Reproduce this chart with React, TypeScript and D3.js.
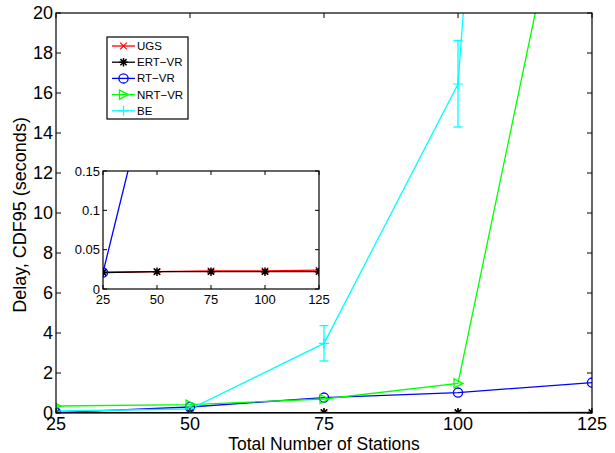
import React from 'react';
import * as d3 from 'd3';

// Delay CDF95 vs number of stations
const stations = [25, 50, 75, 100, 125];
const ugs = [0.021, 0.022, 0.023, 0.023, 0.024];
const ertVr = [0.021, 0.022, 0.022, 0.022, 0.022];
const rtVr = [0.021, 0.3, 0.77, 1.02, 1.52];
const nrtVr = [0.35, 0.42, 0.7, 1.48, 33.6];
const be = [0.1, 0.2, 3.48, 16.45, 106];
const beLow = [0.08, 0.17, 2.6, 14.3, 100];
const beHigh = [0.12, 0.23, 4.37, 18.63, 112];

const yTicks = [0, 2, 4, 6, 8, 10, 12, 14, 16, 18, 20];
const insetYTicks = [0, 0.05, 0.1, 0.15];

const series = [
  { name: 'UGS', values: ugs, color: '#ff0000', marker: 'x' },
  { name: 'ERT\u2212VR', values: ertVr, color: '#000000', marker: 'star' },
  { name: 'RT\u2212VR', values: rtVr, color: '#0000ff', marker: 'o' },
  { name: 'NRT\u2212VR', values: nrtVr, color: '#00ff00', marker: 'tri' },
  { name: 'BE', values: be, color: '#00ffff', marker: '+' },
];

const FONT = 'Liberation Sans, Arial, Helvetica, sans-serif';

function Marker({ type, x, y, color }: { type: string; x: number; y: number; color: string }) {
  const s = 4;
  if (type === 'x') {
    const r = 3.3;
    return <path d={`M${x - r},${y - r}L${x + r},${y + r}M${x - r},${y + r}L${x + r},${y - r}`} stroke={color} strokeWidth={1.2} />;
  }
  if (type === '+') {
    return <path d={`M${x - s - 1},${y}L${x + s + 1},${y}M${x},${y - s - 1}L${x},${y + s + 1}`} stroke={color} strokeWidth={1.2} />;
  }
  if (type === 'star') {
    const r = 4.3;
    const d = r * 0.72;
    return <path d={`M${x - r},${y}L${x + r},${y}M${x},${y - r}L${x},${y + r}M${x - d},${y - d}L${x + d},${y + d}M${x - d},${y + d}L${x + d},${y - d}`} stroke={color} strokeWidth={1.5} />;
  }
  if (type === 'o') {
    return <circle cx={x} cy={y} r={s + 0.6} fill="none" stroke={color} strokeWidth={1.3} />;
  }
  // right-pointing triangle
  return <path d={`M${x - s},${y - s - 0.5}L${x + s + 1},${y}L${x - s},${y + s + 0.5}Z`} fill="none" stroke={color} strokeWidth={1.3} />;
}

export default function App() {
  const W = 615, H = 453;
  const left = 56, right = 592, top = 13, bottom = 413;

  const x = d3.scaleLinear().domain([25, 125]).range([left, right]);
  const y = d3.scaleLinear().domain([0, 20]).range([bottom, top]);

  const ix = d3.scaleLinear().domain([25, 125]).range([103, 319]);
  const iy = d3.scaleLinear().domain([0, 0.15]).range([289, 171]);

  const mainLine = d3.line<number>().x((_, i) => x(stations[i])).y(d => y(d));
  const insetLine = d3.line<number>().x((_, i) => ix(stations[i])).y(d => iy(d));

  const tl = 5;
  const legX = 107, legY = 37, legW = 81, legH = 82, legStep = 16.2;

  return (
    <svg width={W} height={H} style={{ position: 'absolute', left: 0, top: 0, background: '#fff' }} fontFamily={FONT}>
      <defs>
        <clipPath id="mainClip"><rect x={left} y={top} width={right - left} height={bottom - top} /></clipPath>
        <clipPath id="insetClip"><rect x={ix.range()[0]} y={iy.range()[1]} width={ix.range()[1] - ix.range()[0]} height={iy.range()[0] - iy.range()[1]} /></clipPath>
      </defs>

      {/* main plot box */}
      <rect x={left} y={top} width={right - left} height={bottom - top} fill="#fff" stroke="none" />

      <g clipPath="url(#mainClip)">
        {series.map(s => (
          <path key={s.name} d={mainLine(s.values) || ''} fill="none" stroke={s.color} strokeWidth={1.3} />
        ))}
        {/* BE error bars */}
        {stations.map((st, i) => (
          <g key={'eb' + i} stroke="#00ffff" strokeWidth={1.3}>
            <line x1={x(st)} x2={x(st)} y1={y(beLow[i])} y2={y(beHigh[i])} />
            <line x1={x(st) - 4.5} x2={x(st) + 4.5} y1={y(beLow[i])} y2={y(beLow[i])} />
            <line x1={x(st) - 4.5} x2={x(st) + 4.5} y1={y(beHigh[i])} y2={y(beHigh[i])} />
          </g>
        ))}
        {series.map(s => stations.map((st, i) => (
          <Marker key={s.name + i} type={s.marker} x={x(st)} y={y(s.values[i])} color={s.color} />
        )))}
      </g>

      <rect x={left} y={top} width={right - left} height={bottom - top} fill="none" stroke="#000" strokeWidth={1.2} />

      {/* main ticks */}
      {yTicks.map(t => (
        <g key={'yt' + t}>
          <line x1={left} x2={left + tl} y1={y(t)} y2={y(t)} stroke="#000" />
          <line x1={right} x2={right - tl} y1={y(t)} y2={y(t)} stroke="#000" />
          <text x={left - 3} y={y(t)} dy="0.36em" textAnchor="end" fontSize={18}>{t}</text>
        </g>
      ))}
      {stations.map(t => (
        <g key={'xt' + t}>
          <line x1={x(t)} x2={x(t)} y1={bottom} y2={bottom - tl} stroke="#000" />
          <line x1={x(t)} x2={x(t)} y1={top} y2={top + tl} stroke="#000" />
          <text x={x(t)} y={430} textAnchor="middle" fontSize={18}>{t}</text>
        </g>
      ))}
      <text x={(left + right) / 2} y={450} textAnchor="middle" fontSize={17.5}>Total Number of Stations</text>
      <text transform={`translate(26,215) rotate(-90)`} textAnchor="middle" fontSize={18}>Delay, CDF95 (seconds)</text>

      {/* legend */}
      <rect x={legX} y={legY} width={legW} height={legH} fill="#fff" stroke="#000" strokeWidth={1.2} />
      {series.map((s, i) => {
        const ly = legY + 9 + i * legStep;
        return (
          <g key={'lg' + s.name}>
            <line x1={legX + 5} x2={legX + 28} y1={ly} y2={ly} stroke={s.color} strokeWidth={1.3} />
            <Marker type={s.marker} x={legX + 16.5} y={ly} color={s.color} />
            <text x={legX + 30} y={ly} dy="0.35em" fontSize={11.5}>{s.name}</text>
          </g>
        );
      })}

      {/* inset */}
      <rect x={ix.range()[0]} y={iy.range()[1]} width={ix.range()[1] - ix.range()[0]} height={iy.range()[0] - iy.range()[1]} fill="#fff" />
      <g clipPath="url(#insetClip)">
        {series.slice(0, 3).map(s => (
          <path key={'in' + s.name} d={insetLine(s.values) || ''} fill="none" stroke={s.color} strokeWidth={1.3} />
        ))}
        {series.slice(0, 3).map(s => stations.map((st, i) => (
          <Marker key={'im' + s.name + i} type={s.marker} x={ix(st)} y={iy(s.values[i])} color={s.color} />
        )))}
      </g>
      <rect x={ix.range()[0]} y={iy.range()[1]} width={ix.range()[1] - ix.range()[0]} height={iy.range()[0] - iy.range()[1]} fill="none" stroke="#000" strokeWidth={1.2} />
      {insetYTicks.map(t => (
        <g key={'iyt' + t}>
          <line x1={ix.range()[0]} x2={ix.range()[0] + 4} y1={iy(t)} y2={iy(t)} stroke="#000" />
          <line x1={ix.range()[1]} x2={ix.range()[1] - 4} y1={iy(t)} y2={iy(t)} stroke="#000" />
          <text x={ix.range()[0] - 3} y={iy(t)} dy="0.35em" textAnchor="end" fontSize={13}>{t}</text>
        </g>
      ))}
      {stations.map(t => (
        <g key={'ixt' + t}>
          <line x1={ix(t)} x2={ix(t)} y1={iy.range()[0]} y2={iy.range()[0] - 4} stroke="#000" />
          <line x1={ix(t)} x2={ix(t)} y1={iy.range()[1]} y2={iy.range()[1] + 4} stroke="#000" />
          <text x={ix(t)} y={304} textAnchor="middle" fontSize={13}>{t}</text>
        </g>
      ))}
    </svg>
  );
}
